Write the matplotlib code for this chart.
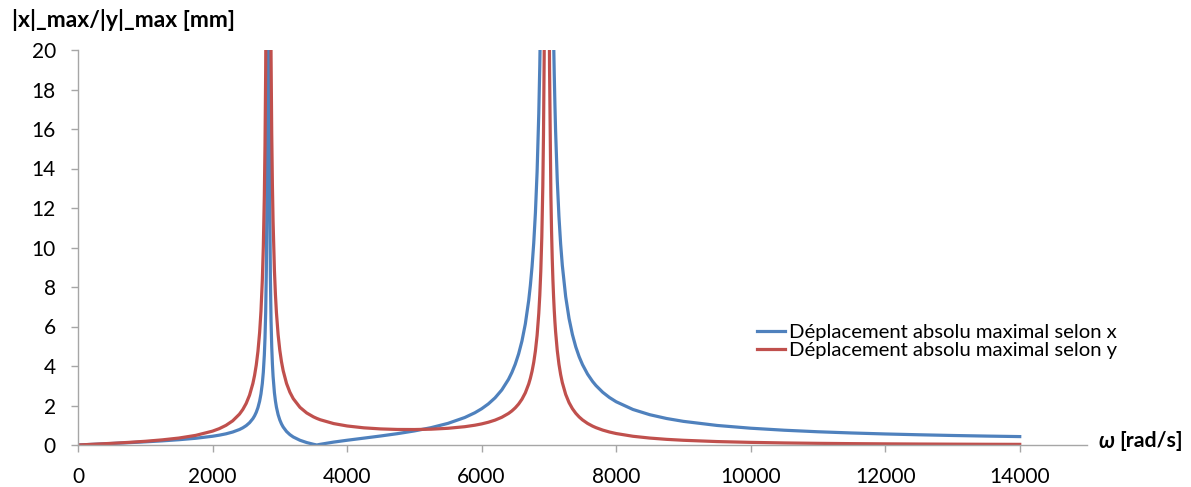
import matplotlib
matplotlib.use("Agg")
import matplotlib.pyplot as plt
from matplotlib.ticker import MultipleLocator

# pulsation (rad/s) and peak displacement amplitudes (mm)
omega = [0, 250, 500, 750, 1000, 1250, 1500, 1750, 2000, 2100,
         2200, 2300, 2400, 2450, 2500, 2550, 2600, 2625, 2650, 2675,
         2700, 2720, 2740, 2755, 2770, 2780, 2790, 2800, 2810, 2815,
         2820, 2840, 2850, 2860, 2870, 2880, 2890, 2900, 2920, 2935,
         2950, 2975, 3000, 3025, 3050, 3100, 3150, 3200, 3300, 3400,
         3500, 3550, 3600, 3800, 4000, 4250, 4500, 4750, 5000, 5250,
         5500, 5750, 5900, 6000, 6100, 6200, 6300, 6400, 6450, 6500,
         6550, 6600, 6650, 6700, 6725, 6750, 6775, 6800, 6825, 6850,
         6865, 6880, 6895, 6910, 6920, 6930, 6940, 7000, 7010, 7030,
         7040, 7050, 7060, 7070, 7080, 7090, 7100, 7125, 7150, 7175,
         7200, 7250, 7300, 7350, 7400, 7450, 7500, 7575, 7650, 7700,
         7800, 7900, 8000, 8250, 8500, 8750, 9000, 9500, 10000, 10500,
         11000, 11500, 12000, 12500, 13000, 13500, 14000]

x_max = [0, 0.037, 0.076, 0.116, 0.160, 0.209, 0.268, 0.341, 0.443, 0.498,
         0.566, 0.657, 0.784, 0.870, 0.980, 1.128, 1.336, 1.477, 1.657, 1.893,
         2.218, 2.584, 3.110, 3.688, 4.553, 5.415, 6.707, 8.852, 13.12, 17.36,
         25.76, 26.30, 12.90, 8.487, 6.293, 4.979, 4.104, 3.479, 2.645, 2.229,
         1.915, 1.536, 1.268, 1.067, 0.911, 0.684, 0.525, 0.406, 0.239, 0.124,
         0.037, 0.000, 0.034, 0.147, 0.240, 0.348, 0.457, 0.575, 0.712, 0.879,
         1.095, 1.392, 1.633, 1.834, 2.080, 2.388, 2.787, 3.325, 3.671, 4.090,
         4.609, 5.267, 6.130, 7.313, 8.085, 9.033, 10.22, 11.76, 13.83, 16.77,
         19.20, 22.44, 26.98, 33.80, 40.61, 50.84, 67.90, 68.08, 51.15, 34.19,
         29.35, 25.71, 22.88, 20.62, 18.77, 17.22, 15.91, 13.39, 11.56, 10.18,
         9.095, 7.511, 6.407, 5.593, 4.967, 4.472, 4.070, 3.591, 3.218, 3.011,
         2.672, 2.406, 2.191, 1.799, 1.534, 1.342, 1.197, 0.990, 0.850, 0.748,
         0.670, 0.609, 0.559, 0.518, 0.482, 0.452, 0.426]

y_max = [0, 0.041, 0.084, 0.132, 0.188, 0.259, 0.352, 0.487, 0.702, 0.828,
         0.995, 1.225, 1.562, 1.797, 2.104, 2.521, 3.119, 3.527, 4.049, 4.739,
         5.694, 6.771, 8.326, 10.03, 12.59, 15.15, 18.98, 25.35, 38.02, 50.60,
         75.56, 79.05, 39.26, 26.17, 19.66, 15.76, 13.17, 11.32, 8.851, 7.621,
         6.698, 5.585, 4.800, 4.217, 3.767, 3.117, 2.672, 2.347, 1.906, 1.622,
         1.425, 1.347, 1.280, 1.085, 0.964, 0.869, 0.814, 0.787, 0.783, 0.801,
         0.846, 0.927, 1.002, 1.068, 1.152, 1.260, 1.403, 1.598, 1.725, 1.880,
         2.073, 2.319, 2.642, 3.087, 3.378, 3.735, 4.184, 4.766, 5.549, 6.659,
         7.579, 8.807, 10.53, 13.11, 15.69, 19.56, 26.02, 25.49, 19.08, 12.66,
         10.82, 9.445, 8.374, 7.517, 6.816, 6.232, 5.737, 4.781, 4.090, 3.568,
         3.159, 2.562, 2.146, 1.840, 1.606, 1.421, 1.271, 1.093, 0.955, 0.879,
         0.755, 0.658, 0.581, 0.442, 0.351, 0.286, 0.239, 0.174, 0.133, 0.104,
         0.084, 0.069, 0.058, 0.049, 0.042, 0.036, 0.032]

labels = ['Déplacement absolu maximal selon x',
          'Déplacement absolu maximal selon y']

W, H = 1191, 487
plt.rcParams['font.family'] = ['Lato', 'DejaVu Sans']

fig = plt.figure(figsize=(W / 100, H / 100), dpi=100)
ax = fig.add_axes([78 / W, 1 - 445 / H, (1087 - 78) / W, (445 - 50) / H])

ax.plot(omega, x_max, color='#4F81BD', linewidth=2.3, label=labels[0])
ax.plot(omega, y_max, color='#C0504D', linewidth=2.3, label=labels[1])

ax.set_xlim(0, 15000)
ax.set_ylim(0, 20)
ax.set_xticks(range(0, 14001, 2000))
ax.yaxis.set_major_locator(MultipleLocator(2))

for side in ('top', 'right'):
  ax.spines[side].set_visible(False)
for side in ('left', 'bottom'):
  ax.spines[side].set_color('#A6A6A6')
  ax.spines[side].set_linewidth(1.0)
ax.tick_params(axis='both', direction='out', length=5, width=1.0,
               color='#A6A6A6', labelsize=15, labelcolor='black')
ax.tick_params(axis='x', pad=11)
ax.tick_params(axis='y', pad=11)

fig.text(12 / W, 1 - 20 / H, '|x|_max/|y|_max [mm]', fontsize=16.5,
         fontweight='bold', ha='left', va='center')
fig.text(1098 / W, 1 - 441 / H, 'ω', fontsize=15.5, fontweight='bold',
         fontstyle='italic', ha='left', va='center')
fig.text(1119 / W, 1 - 441 / H, '[rad/s]', fontsize=15.3, fontweight='bold',
         ha='left', va='center')

ax.legend(loc='upper left', bbox_to_anchor=(757 / W, 1 - 324 / H),
          bbox_transform=fig.transFigure, frameon=False, fontsize=14.6,
          handlelength=1.4, handletextpad=0.2, labelspacing=0.05,
          borderpad=0, borderaxespad=0)

fig.savefig('out.png', dpi=100)
